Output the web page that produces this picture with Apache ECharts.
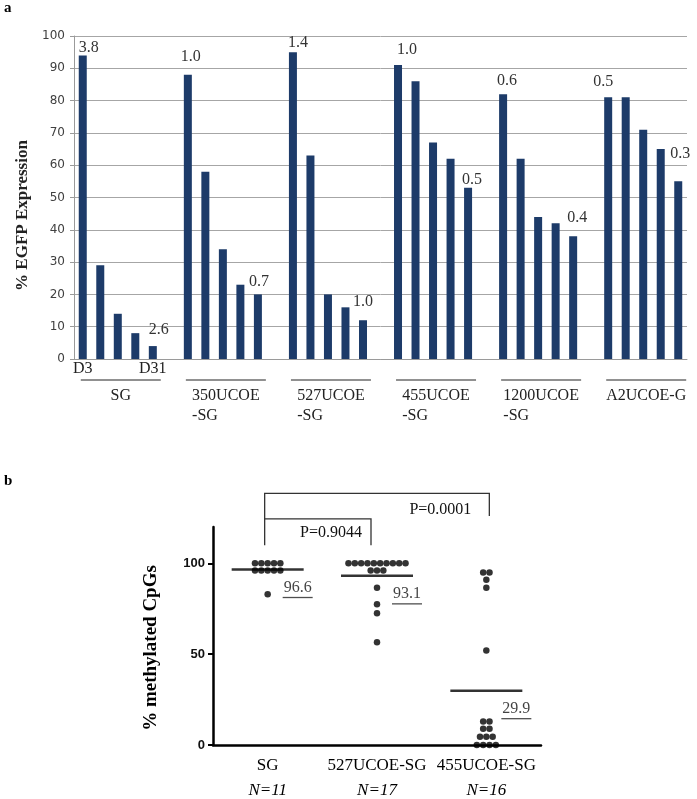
<!DOCTYPE html>
<html><head><meta charset="utf-8">
<script src="https://cdn.jsdelivr.net/npm/echarts@6/dist/echarts.min.js"></script>
<style>html,body{margin:0;padding:0;background:#fff}#c{width:697px;height:799px}</style>
</head><body><div id="c"></div>
<script>
// ---------- Panel a data ----------
const groupNames = ['SG', '350UCOE\n-SG', '527UCOE\n-SG', '455UCOE\n-SG', '1200UCOE\n-SG', 'A2UCOE-G'];
const dayTickLabels = ['D3', '', '', '', 'D31'];
const sgValues = [94, 29, 14, 8, 4];
const ucoe350Values = [88, 58, 34, 23, 20];
const ucoe527Values = [95, 63, 20, 16, 12];
const ucoe455Values = [91, 86, 67, 62, 53];
const ucoe1200Values = [82, 62, 44, 42, 38];
const a2ucoeValues = [81, 81, 71, 65, 55];
const firstDayFold = ['3.8', '1.0', '1.4', '1.0', '0.6', '0.5'];
const lastDayFold = ['2.6', '0.7', '1.0', '0.5', '0.4', '0.3'];

// ---------- Panel b data ----------
const methCategories = ['SG', '527UCOE-SG', '455UCOE-SG'];
const methN = ['N=11', 'N=17', 'N=16'];
const sgMeth = [100, 100, 100, 100, 100, 96, 96, 96, 96, 96, 83];
const ucoe527Meth = [100, 100, 100, 100, 100, 100, 100, 100, 100, 100, 96, 96, 96, 86.5, 77.5, 72.5, 56.5];
const ucoe455Meth = [95, 95, 91, 86.5, 52, 13, 13, 9, 9, 4.5, 4.5, 4.5, 0, 0, 0, 0];
const methMeans = [96.6, 93.1, 29.9];
const methMeanLabels = ['96.6', '93.1', '29.9'];
const pLabels = ['P=0.9044', 'P=0.0001'];

// ---------- styles ----------
const serif = "'Liberation Serif','Times New Roman',serif";
const barColor = '#1d3b69';
const firstLabelOffsets = [[6, 0], [3, -10], [5, -1], [9, -7], [4, -5], [-5, -8]];
const lastLabelOffsets = [[6, -8], [1, -5], [0, -10], [4, 0], [4, -10], [2, -20]];
const dotStep = 0.058;

const groupValues = [sgValues, ucoe350Values, ucoe527Values, ucoe455Values, ucoe1200Values, a2ucoeValues];
const cats = [], barData = [];
groupValues.forEach((vals, gi) => {
  vals.forEach((v, di) => {
    cats.push('g' + gi + 'd' + di);
    const item = { value: v };
    if (di === 0) item.label = { show: true, formatter: firstDayFold[gi], offset: firstLabelOffsets[gi] };
    if (di === vals.length - 1) item.label = { show: true, formatter: lastDayFold[gi], offset: lastLabelOffsets[gi] };
    barData.push(item);
  });
  if (gi < groupValues.length - 1) { cats.push('gap' + gi); barData.push('-'); }
});

function swarm(vals, gx) {
  const counts = {}; vals.forEach(v => counts[v] = (counts[v] || 0) + 1);
  const seen = {};
  return vals.map(v => {
    seen[v] = seen[v] === undefined ? 0 : seen[v] + 1;
    return [gx + (seen[v] - (counts[v] - 1) / 2) * dotStep, v];
  });
}
const dots = [].concat(swarm(sgMeth, 1), swarm(ucoe527Meth, 2), swarm(ucoe455Meth, 3));

const chart = echarts.init(document.getElementById('c'));
const option = {
  animation: false,
  backgroundColor: '#fff',
  grid: [
    { left: 74, right: 10, top: 36, bottom: 440 },
    { left: 213, right: 156, top: 527, bottom: 54 }
  ],
  xAxis: [
    {
      type: 'category', gridIndex: 0, data: cats,
      axisLine: { lineStyle: { color: '#9a9a9a', width: 1 } },
      axisTick: { show: false },
      axisLabel: {
        interval: 0, margin: 2, fontFamily: serif, fontSize: 16, color: '#222',
        formatter: (v, i) => (i < dayTickLabels.length ? dayTickLabels[i] : '')
      }
    },
    {
      type: 'category', gridIndex: 1, data: methCategories,
      axisLine: { lineStyle: { color: '#000', width: 2.5 } },
      axisTick: { alignWithLabel: true, length: 6, lineStyle: { color: '#000', width: 2 } },
      axisLabel: {
        margin: 8, interval: 0,
        formatter: (v, i) => '{c|' + v + '}\n{n|' + methN[i] + '}',
        rich: {
          c: { fontFamily: serif, fontSize: 17, color: '#000', lineHeight: 25 },
          n: { fontFamily: serif, fontSize: 17, fontStyle: 'italic', color: '#000', lineHeight: 25 }
        }
      }
    },
    { type: 'value', gridIndex: 1, min: 0.5, max: 3.5, show: false }
  ],
  yAxis: [
    {
      type: 'value', gridIndex: 0, min: 0, max: 100, interval: 10,
      name: '% EGFP Expression', nameLocation: 'middle', nameGap: 42,
      nameTextStyle: { fontFamily: serif, fontSize: 17, fontWeight: 'bold', color: '#222', padding: [0, 36, 0, 0] },
      axisLine: { show: true, lineStyle: { color: '#9a9a9a' } },
      axisTick: { show: true, length: 4, lineStyle: { color: '#9a9a9a' } },
      axisLabel: { fontFamily: "'DejaVu Sans',Verdana,sans-serif", fontSize: 12, color: '#404040', margin: 9 },
      splitLine: { lineStyle: { color: '#a6a6a6', width: 1 } }
    },
    {
      type: 'value', gridIndex: 1, min: 0, max: 120, interval: 50,
      name: '% methylated CpGs', nameLocation: 'middle', nameGap: 52,
      nameTextStyle: { fontFamily: serif, fontSize: 19, fontWeight: 'bold', color: '#000', padding: [0, 24, 0, 0] },
      axisLine: { show: true, lineStyle: { color: '#000', width: 2.5 } },
      axisTick: { show: true, length: 5, customValues: [0, 50, 100], lineStyle: { color: '#000', width: 2 } },
      axisLabel: { customValues: [0, 50, 100], fontFamily: "'Liberation Sans',Arial,sans-serif", fontWeight: 'bold', fontSize: 13, color: '#111', margin: 8 },
      splitLine: { show: false }
    }
  ],
  series: [
    {
      type: 'bar', xAxisIndex: 0, yAxisIndex: 0, data: barData, barWidth: 8,
      itemStyle: { color: barColor },
      label: { show: false, position: 'top', distance: 0, fontFamily: serif, fontSize: 16, lineHeight: 16, color: '#333' }
    },
    {
      type: 'scatter', xAxisIndex: 2, yAxisIndex: 1, data: dots, symbolSize: 6.5, clip: false,
      itemStyle: { color: '#000' }, z: 3
    },
    {
      type: 'scatter', xAxisIndex: 2, yAxisIndex: 1, clip: false, z: 4,
      symbol: 'rect', symbolSize: [72, 2.5], itemStyle: { color: '#000' },
      data: methMeans.map((m, i) => [i + 1, m]),
      label: {
        show: true, position: 'inside', offset: [30, 19],
        formatter: p => '{t|' + methMeanLabels[p.dataIndex] + '}\n{u|}',
        rich: {
          t: { fontFamily: serif, fontSize: 16, color: '#111', lineHeight: 18 },
          u: { width: 30, height: 1.3, backgroundColor: '#222' }
        }
      }
    }
  ]
};
chart.setOption(option);

// ---------- annotations placed through the axes ----------
const measureCtx = document.createElement('canvas').getContext('2d');
measureCtx.font = "16px 'Liberation Serif'";
const graphics = [];
groupNames.forEach((name, gi) => {
  const mid = chart.convertToPixel({ gridIndex: 0 }, ['g' + gi + 'd2', 0]);
  const cx = mid[0] + 3;
  const baseY = mid[1];
  graphics.push({ type: 'line', shape: { x1: cx - 40, y1: baseY + 21, x2: cx + 40, y2: baseY + 21 }, style: { stroke: '#222', lineWidth: 1 } });
  const lines = name.split('\n');
  const w = Math.max.apply(null, lines.map(l => measureCtx.measureText(l).width));
  graphics.push({ type: 'text', x: cx - w / 2, y: baseY + 27, style: { text: name, font: "16px 'Liberation Serif'", fill: '#222', textAlign: 'left', textVerticalAlign: 'top', lineHeight: 20 } });
});
// brackets panel b
const P = (x, y) => chart.convertToPixel({ seriesIndex: 1 }, [x, y]);
const base = P(1, 110)[1], low = P(1, 124.5)[1], high = P(1, 138.5)[1], highDrop = P(1, 126)[1];
const x1 = P(1, 0)[0] - 3, x2 = P(2, 0)[0] - 6, x3 = P(3, 0)[0] + 3;
graphics.push({ type: 'polyline', shape: { points: [[x1, base], [x1, high], [x3, high], [x3, highDrop]] }, style: { stroke: '#333', lineWidth: 1.3, fill: null } });
graphics.push({ type: 'polyline', shape: { points: [[x1, low], [x2, low], [x2, base]] }, style: { stroke: '#333', lineWidth: 1.3, fill: null } });
graphics.push({ type: 'text', x: x2 - 9, y: (low + base) / 2 + 1, style: { text: pLabels[0], font: "16px 'Liberation Serif'", fill: '#111', textAlign: 'right', textVerticalAlign: 'middle' } });
graphics.push({ type: 'text', x: x3 - 18, y: (high + highDrop) / 2 + 5, style: { text: pLabels[1], font: "16px 'Liberation Serif'", fill: '#111', textAlign: 'right', textVerticalAlign: 'middle' } });
// panel letters
graphics.push({ type: 'text', x: 4, y: 1, style: { text: 'a', font: "bold 15px 'Liberation Serif'", fill: '#000' } });
graphics.push({ type: 'text', x: 4, y: 474, style: { text: 'b', font: "bold 15px 'Liberation Serif'", fill: '#000' } });
chart.setOption({ graphic: graphics });
</script>
</body></html>
